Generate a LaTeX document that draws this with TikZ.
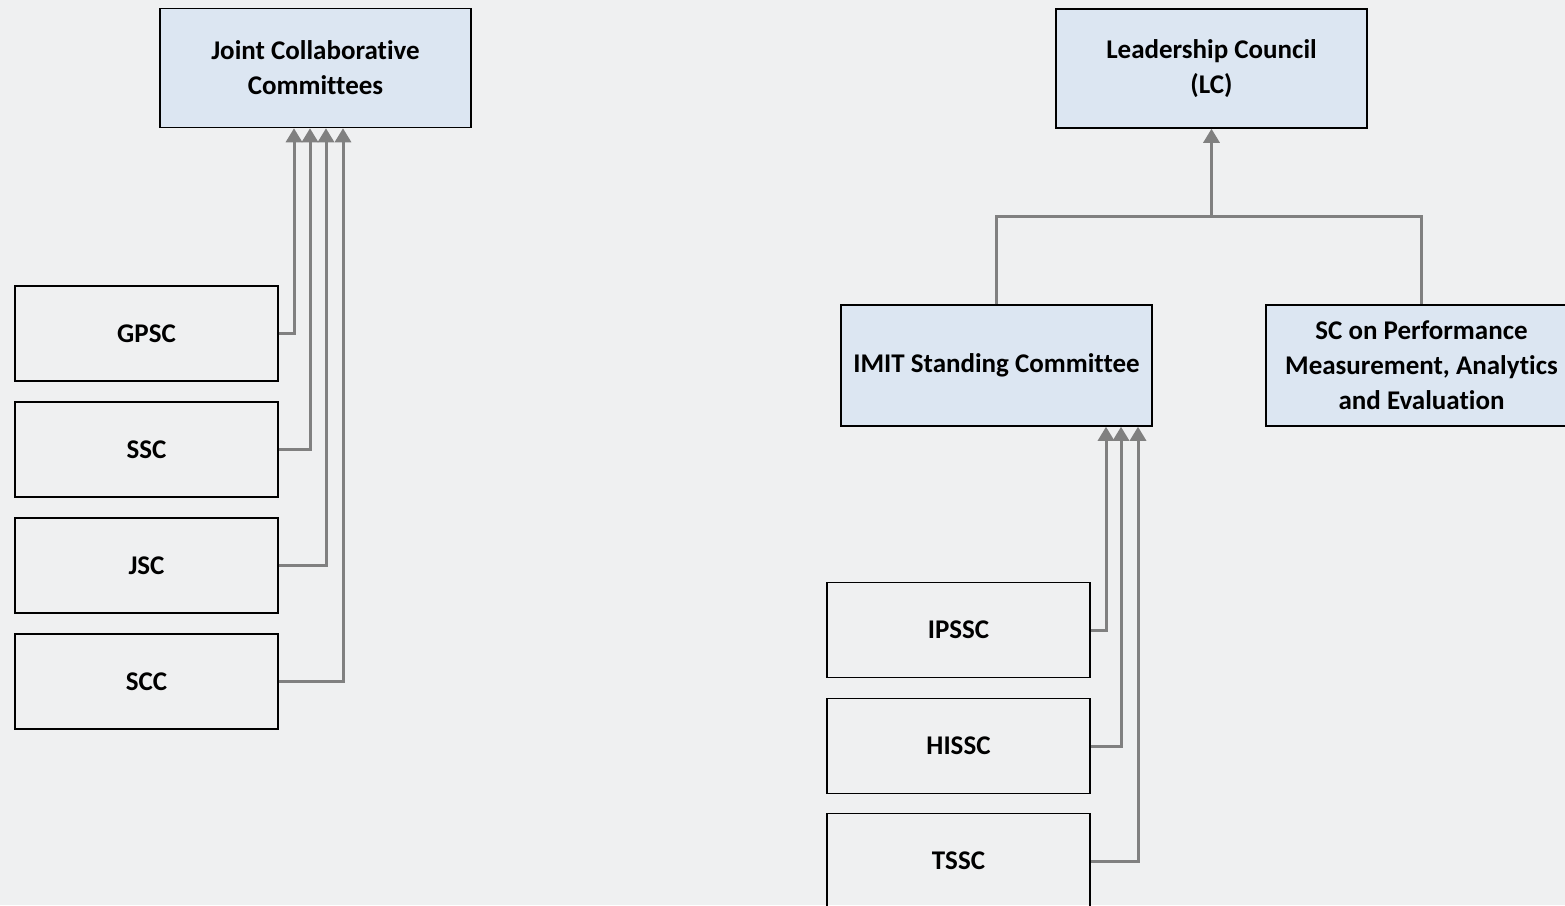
\documentclass[tikz,border=0pt]{standalone}
\usepackage{fontspec}
\setmainfont{Carlito}[Ligatures=NoCommon]
\usetikzlibrary{arrows.meta}
\definecolor{my back}{HTML}{EFF0F1}
\definecolor{my blue}{HTML}{DCE6F2}
\definecolor{my grey}{HTML}{808080}

\begin{document}
\begin{tikzpicture}[x=1pt, y=-1pt,
        box/.style={draw=black, line width=1.5pt, align=center, inner sep=0pt,
            font=\fontsize{27}{35}\selectfont\bfseries},
        head/.style={box, fill=my blue, minimum width=311pt, minimum height=119pt},
        sub/.style={box, minimum width=263pt, minimum height=95pt},
        link/.style={my grey, line width=3pt},
        up/.style={link, -{Triangle[width=16pt, length=14pt]}}]
            \fill [my back] (0, 0) rectangle (1565, 905);
            \clip (0, 0) rectangle (1565, 905);
            % left group
            \node [head] (jcc) at (315.5, 68) {Joint Collaborative\\Committees};
            \node [sub] (gpsc) at (146.5, 333.5) {GPSC};
            \node [sub] (ssc) at (146.5, 449.5) {SSC};
            \node [sub] (jsc) at (146.5, 565.5) {JSC};
            \node [sub] (scc) at (146.5, 681.5) {SCC};
            \draw [up] (gpsc.east) -| ([xshift=-21.5pt]jcc.south);
            \draw [up] (ssc.east) -| ([xshift=-5.5pt]jcc.south);
            \draw [up] (jsc.east) -| ([xshift=10.5pt]jcc.south);
            \draw [up] (scc.east) -| ([xshift=27.5pt]jcc.south);
            % right group
            \node [head] (lc) at (1211.5, 68.5) {Leadership Council\\(LC)};
            \node [head, minimum height=121pt] (imit) at (996.5, 365.5) {IMIT Standing Committee};
            \node [head, minimum height=121pt] (scpm) at (1421.5, 365.5) {SC on Performance\\Measurement, Analytics\\and Evaluation};
            \coordinate (hub) at (1211.5, 216);
            \draw [link] (imit.north) |- (hub) -| (scpm.north);
            \draw [up] (hub) -- (lc.south);
            \node [sub] (ipssc) at (958.5, 630) {IPSSC};
            \node [sub] (hissc) at (958.5, 746) {HISSC};
            \node [sub] (tssc) at (958.5, 861) {TSSC};
            \draw [up] (ipssc.east) -| ([xshift=109.5pt]imit.south);
            \draw [up] (hissc.east) -| ([xshift=124.5pt]imit.south);
            \draw [up] (tssc.east) -| ([xshift=141.5pt]imit.south);
        \end{tikzpicture}
\end{document}
